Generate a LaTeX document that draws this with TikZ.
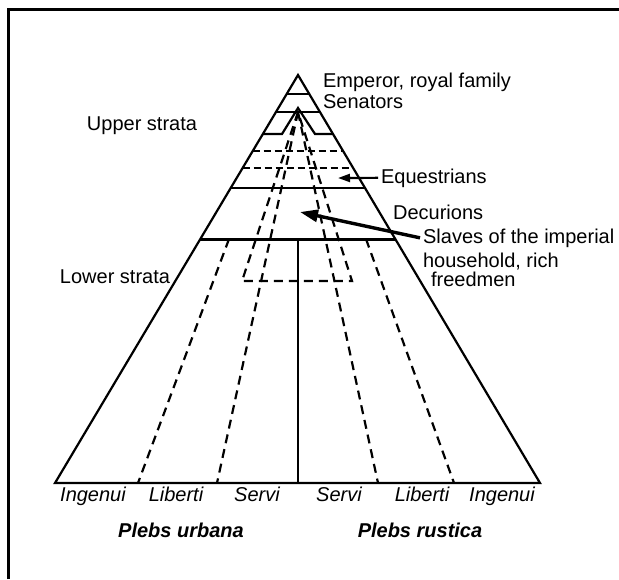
\documentclass[tikz,border=0pt]{standalone}
\usepackage{fontspec}
\setmainfont{Liberation Sans}
\usetikzlibrary{arrows.meta, calc}

\begin{document}
\begin{tikzpicture}[x=0.5pt, y=-0.5pt, line width=1.1pt,
    lbl/.style={inner sep=1pt, anchor=base west},
    bot/.style={inner sep=0pt, anchor=base, font=\itshape},
    plebs/.style={inner sep=0pt, anchor=base, font=\bfseries\itshape},
    dsh/.style={dash pattern=on 4.5pt off 3pt},
    dshh/.style={dash pattern=on 3.5pt off 2pt}]
    \useasboundingbox (0,0) rectangle (619,579);
    \draw[line width=1.5pt] (8,579) -- (8,9) -- (619,9);

    % pyramid
    \coordinate (A) at (298,75);
    \coordinate (L) at (55,483);
    \coordinate (R) at (540,483);
    \draw (L) -- (A) -- (R) -- cycle;

    % upper strata bands
    \foreach \y [evaluate=\y as \t using (\y-75)/408] in {94,112,188}
        \draw ($(A)!\t!(L)$) -- ($(A)!\t!(R)$);
    \foreach \y [evaluate=\y as \t using (\y-75)/408] in {151,168}
        \draw[dshh] ($(A)!\t!(L)$) -- ($(A)!\t!(R)$);
    \draw ($(A)!0.1446!(L)$) -- (282,134) -- (298,108) -- (315,134) -- ($(A)!0.1446!(R)$);
    \coordinate (ml) at ($(A)!0.402!(L)$);
    \coordinate (mr) at ($(A)!0.402!(R)$);
    \draw[line width=1.5pt] (ml) -- (mr);

    % lower strata
    \coordinate (mc) at (298,239);
    \coordinate (bc) at (298,483);
    \draw (mc) -- (bc);
    \coordinate (P) at (298,112);
    \draw[dsh] (P) -- (217,483);
    \draw[dsh] (P) -- (378,483);
    \draw[dsh] (P) -- (242,281) -- (352,281) -- cycle;
    \draw[dsh] (229,239) -- (138,483);
    \draw[dsh] (366,239) -- (454,483);

    % labels
    \node[lbl] (emp) at (320,87) {Emperor, royal family};
    \node[lbl] (sen) at (320,108) {Senators};
    \node[lbl] (equ) at (378,183) {Equestrians};
    \node[lbl] (dec) at (390,219) {Decurions};
    \node[lbl] (slv1) at (420,243) {Slaves of the imperial};
    \node[lbl] (slv2) at (420,267) {household, rich};
    \node[lbl] (slv3) at (428,286) {freedmen};
    \coordinate (equtip) at (338,178);
    \coordinate (slvtip) at (300,212);
    \draw[-{Triangle[length=6pt,width=4pt]}] (equ.west) -- (equtip);
    \draw[line width=1.7pt, -{Triangle[length=9pt,width=6pt]}] (slv1.west) -- (slvtip);

    \node[inner sep=0pt, anchor=base] (up) at (142,130) {Upper strata};
    \node[inner sep=0pt, anchor=base] (low) at (115,283) {Lower strata};

    \node[bot] (ing1) at (93,501) {Ingenui};
    \node[bot] (lib1) at (176,501) {Liberti};
    \node[bot] (ser1) at (257,501) {Servi};
    \node[bot] (ser2) at (339,501) {Servi};
    \node[bot] (lib2) at (422,501) {Liberti};
    \node[bot] (ing2) at (502,501) {Ingenui};
    \node[plebs] (urb) at (181,537) {Plebs urbana};
    \node[plebs] (rus) at (420,537) {Plebs rustica};
\end{tikzpicture}
\end{document}
